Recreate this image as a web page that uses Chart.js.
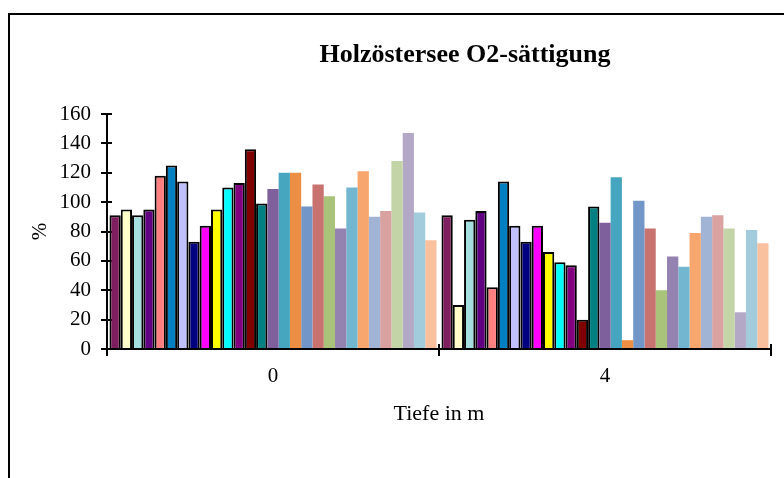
<!DOCTYPE html>
<html>
<head>
<meta charset="utf-8">
<title>Holzöstersee O2-sättigung</title>
<script src="https://cdn.jsdelivr.net/npm/chart.js@4.4.1/dist/chart.umd.min.js"></script>
<style>
  html, body { margin: 0; padding: 0; background: #fff; overflow: hidden; }
  .frame {
    position: absolute; left: 8px; top: 13px;
    width: 820px; height: 520px;
    border: 2px solid #000; box-sizing: border-box;
  }
  .wrap { position: absolute; left: 0; top: 0; width: 784px; height: 478px; }
</style>
</head>
<body>
<div class="frame"></div>
<div class="wrap"><canvas id="chart" width="784" height="478"></canvas></div>
<script>
// Tiefe (m) categories
const depths = ['0', '4'];

// O2 saturation (%) per series, one entry per series
const satAt0m = [91, 95, 91, 95, 118, 125, 114, 73, 84, 95, 110, 113, 136, 99,
  109, 120, 120, 97, 112, 104, 82, 110, 121, 90, 94, 128, 147, 93, 74];
const satAt4m = [91, 30, 88, 94, 42, 114, 84, 73, 84, 66, 59, 57, 20, 97,
  86, 117, 6, 101, 82, 40, 63, 56, 79, 90, 91, 82, 25, 81, 72];

const yTicks = [0, 20, 40, 60, 80, 100, 120, 140, 160];

// first 14 series have a black outline (old excel palette), rest are flat
const seriesColors = [
  '#7F1F5F', '#FFFFCC', '#A6DFDF', '#600080', '#FF8080', '#0080C0', '#C0C0FF',
  '#000080', '#FF00FF', '#FFFF00', '#00FFFF', '#800080', '#800000', '#008080',
  '#7E619C', '#47A6BF', '#EC8F44', '#7396C8', '#C87370', '#A9C47A', '#9482B0',
  '#72B7CF', '#F7A66E', '#A1B4D6', '#D9A2A0', '#C3D4A6', '#B3A9C7', '#A2CBDB',
  '#FAC19F'
];
const outlinedCount = 14;

const chartTitle = 'Holzöstersee O2-sättigung';
const serif = '"Liberation Serif", "Times New Roman", serif';

const datasets = seriesColors.map((color, i) => ({
  label: 'Reihe ' + (i + 1),
  data: [satAt0m[i], satAt4m[i]],
  backgroundColor: color,
  borderColor: '#000',
  borderWidth: i < outlinedCount ? 2 : 0,
  borderSkipped: 'bottom',
  categoryPercentage: 0.985,
  barPercentage: 1
}));

// draws the chart heading a bit right of centre like the original
const headingPlugin = {
  id: 'heading',
  afterDraw(chart) {
    const ctx = chart.ctx;
    ctx.save();
    ctx.font = 'bold 26px ' + serif;
    ctx.fillStyle = '#000';
    ctx.textAlign = 'center';
    ctx.textBaseline = 'alphabetic';
    ctx.fillText(chartTitle, 465, 62);
    ctx.restore();
  }
};

// excel style "cross" tick marks: inner half of each tick
const crossTicksPlugin = {
  id: 'crossTicks',
  beforeDatasetsDraw(chart) {
    const { ctx, scales: { x, y } } = chart;
    const len = 5;
    ctx.save();
    ctx.strokeStyle = '#000';
    ctx.lineWidth = 2;
    ctx.beginPath();
    y.ticks.forEach(t => {
      const py = Math.round(y.getPixelForValue(t.value));
      ctx.moveTo(y.right, py);
      ctx.lineTo(y.right + len, py);
    });
    const xs = [x.left, x.right];
    for (let i = 1; i < depths.length; i++) {
      xs.push((x.getPixelForTick(i - 1) + x.getPixelForTick(i)) / 2);
    }
    xs.forEach(px => {
      ctx.moveTo(Math.round(px), x.top);
      ctx.lineTo(Math.round(px), x.top - len);
    });
    ctx.stroke();
    ctx.restore();
  }
};

new Chart(document.getElementById('chart'), {
  type: 'bar',
  data: { labels: depths, datasets },
  plugins: [crossTicksPlugin, headingPlugin],
  options: {
    responsive: false,
    animation: false,
    layout: { padding: { top: 114, right: 13, left: 0, bottom: 0 } },
    plugins: {
      legend: { display: false },
      tooltip: { enabled: false }
    },
    scales: {
      x: {
        afterFit(scale) { scale.height = 129; },
        grid: {
          display: true,
          drawOnChartArea: false,
          drawTicks: true,
          tickLength: 7,
          color: '#000',
          lineWidth: 2
        },
        border: { display: true, color: '#000', width: 2 },
        ticks: {
          color: '#000',
          padding: 8,
          font: { family: serif, size: 21 }
        },
        title: {
          display: true,
          text: 'Tiefe in m',
          color: '#000',
          font: { family: serif, size: 22 },
          padding: { top: 0, bottom: 51 }
        }
      },
      y: {
        min: 0,
        max: 160,
        afterFit(scale) { scale.width = 107; },
        afterBuildTicks(scale) { scale.ticks = yTicks.map(v => ({ value: v })); },
        grid: {
          display: true,
          drawOnChartArea: false,
          drawTicks: true,
          tickLength: 6,
          color: '#000',
          lineWidth: 2
        },
        border: { display: true, color: '#000', width: 2 },
        ticks: {
          color: '#000',
          padding: 10,
          font: { family: serif, size: 21 }
        },
        title: {
          display: true,
          text: '%',
          color: '#000',
          font: { family: serif, size: 21 },
          padding: { top: 28, bottom: 0 }
        }
      }
    }
  }
});
</script>
</body>
</html>
